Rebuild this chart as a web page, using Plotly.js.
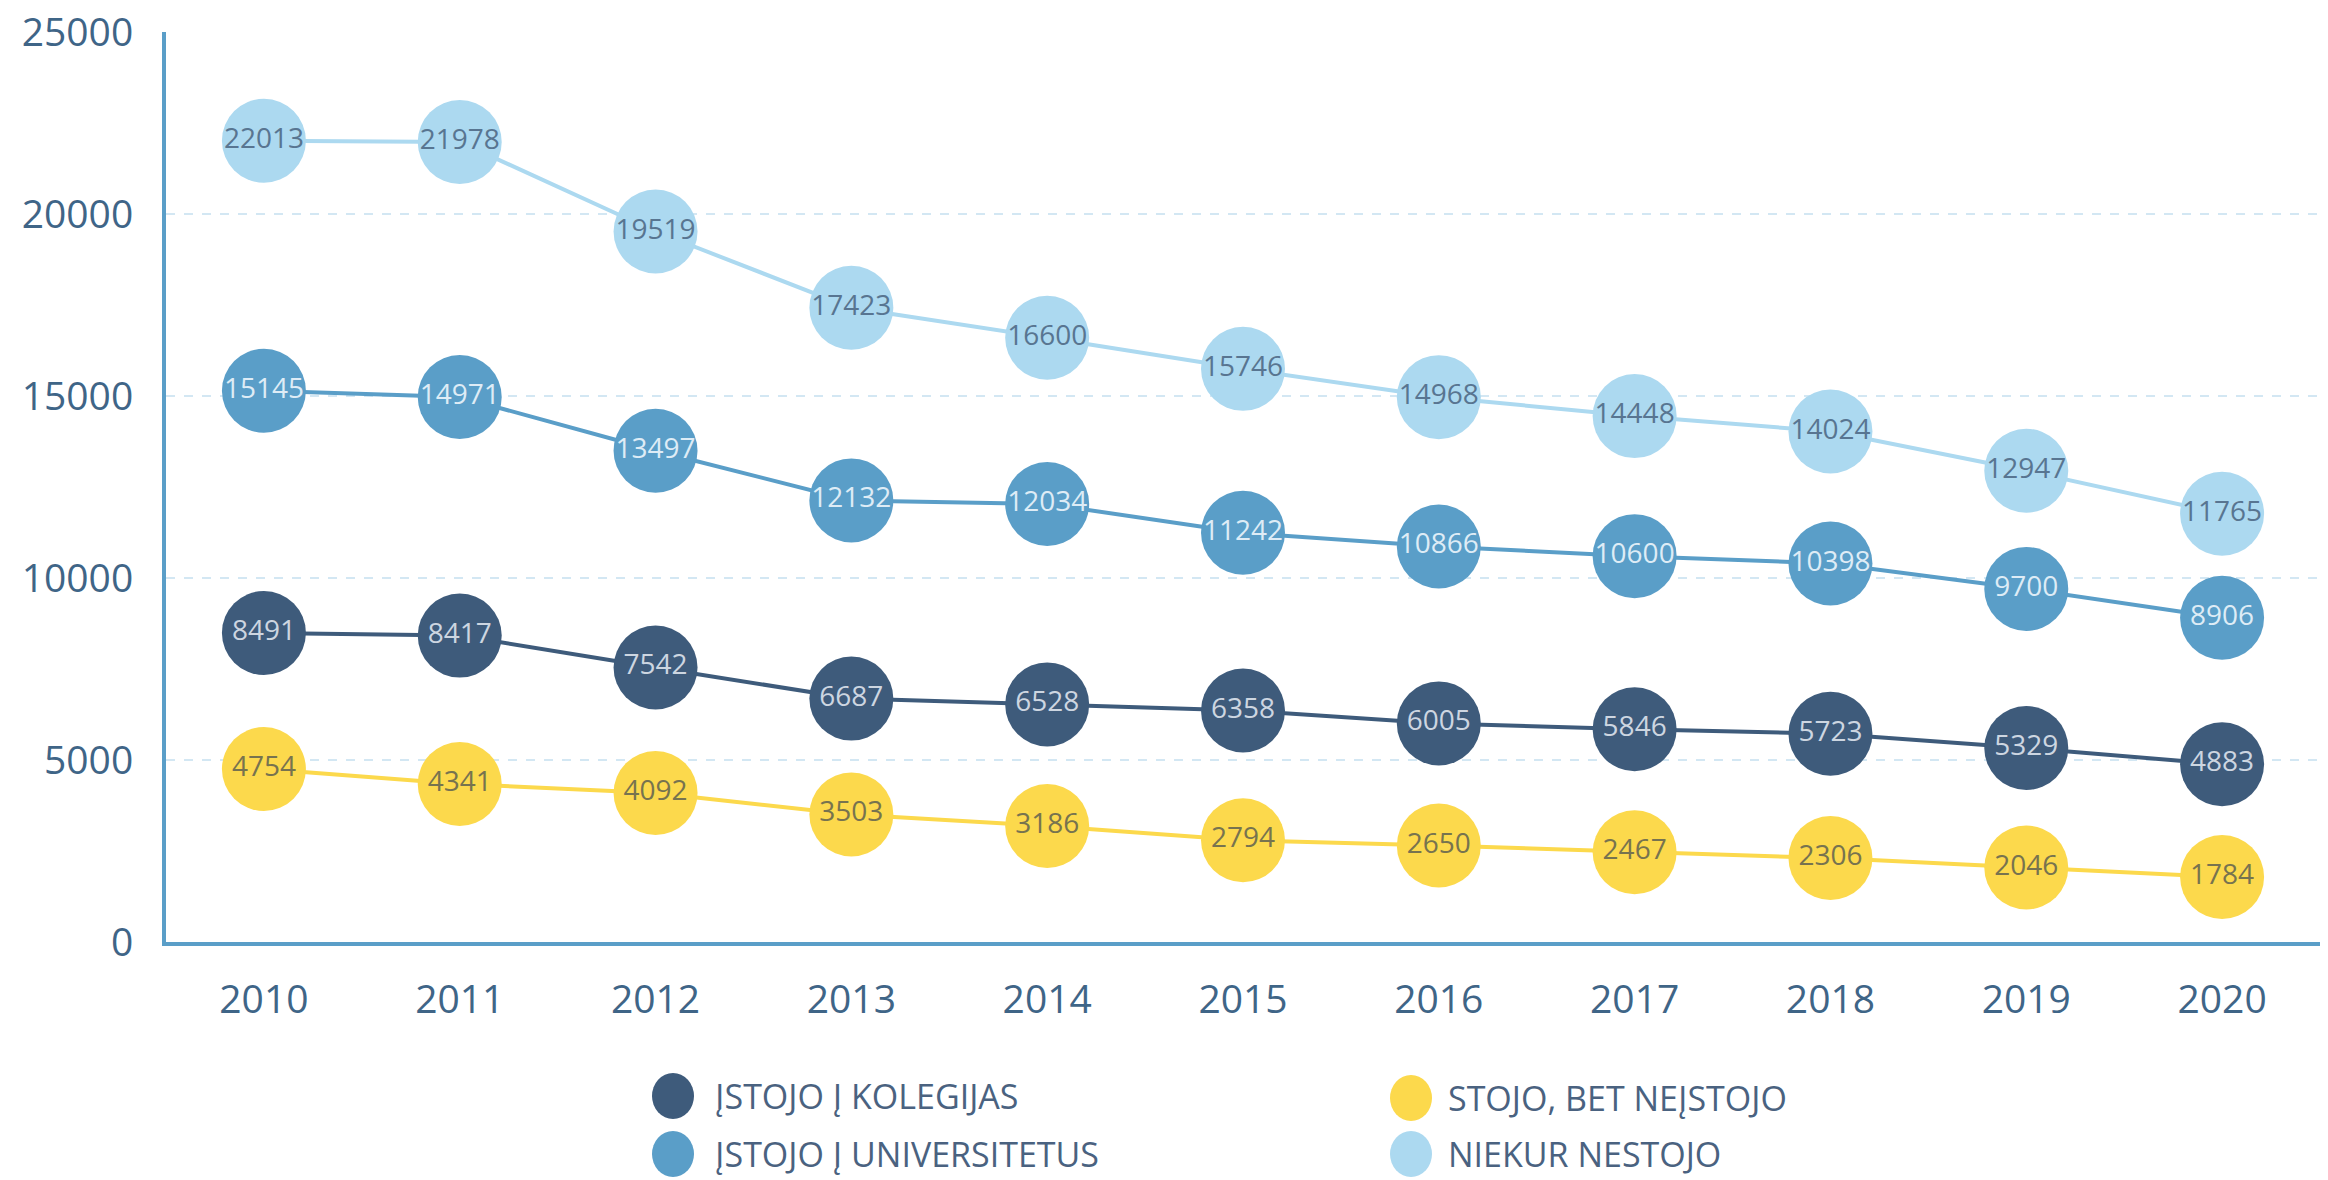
<!DOCTYPE html>
<html>
<head>
<meta charset="utf-8">
<script src="https://cdn.plot.ly/plotly-3.0.1.min.js"></script>
<style>html,body{margin:0;padding:0;background:#fff;}#chart{width:2328px;height:1180px;}</style>
</head>
<body>
<div id="chart"></div>
<script>
const years = ['2010','2011','2012','2013','2014','2015','2016','2017','2018','2019','2020'];
const kolegijos = [8491, 8417, 7542, 6687, 6528, 6358, 6005, 5846, 5723, 5329, 4883];
const universitetai = [15145, 14971, 13497, 12132, 12034, 11242, 10866, 10600, 10398, 9700, 8906];
const neistojo = [4754, 4341, 4092, 3503, 3186, 2794, 2650, 2467, 2306, 2046, 1784];
const nestojo = [22013, 21978, 19519, 17423, 16600, 15746, 14968, 14448, 14024, 12947, 11765];
const seriesNames = ['ĮSTOJO Į KOLEGIJAS', 'ĮSTOJO Į UNIVERSITETUS', 'STOJO, BET NEĮSTOJO', 'NIEKUR NESTOJO'];
const yTicks = [0, 5000, 10000, 15000, 20000, 25000];

const colors = ['#3e5b7b', '#5a9ec8', '#fcd94c', '#acd9f0'];
const textColors = ['#cdd6e1', '#deecf6', '#77734f', '#587591'];
const data = [kolegijos, universitetai, neistojo, nestojo];

const traces = data.map((vals, i) => ({
  type: 'scatter',
  mode: 'lines+markers+text',
  x: years,
  y: vals,
  name: seriesNames[i],
  text: vals.map(String),
  textposition: 'middle center',
  textfont: {family: 'Open Sans, sans-serif', size: 28, color: textColors[i]},
  line: {color: colors[i], width: 4},
  marker: {color: colors[i], size: 84},
  cliponaxis: false,
  showlegend: false,
  hoverinfo: 'x+y+name'
}));

// legend drawn as circles + text
const L = 166, R = 2320, T = 32, B = 942;
const W = R - L, H = B - T;
const px = v => (v - L) / W;
const py = v => (B - v) / H;
const legPos = [[673, 1096, 713], [673, 1154, 713], [1411, 1098, 1446], [1411, 1154, 1446]];
const shapes = [];
const annotations = [];
legPos.forEach((p, i) => {
  shapes.push({
    type: 'circle', xref: 'paper', yref: 'paper',
    xsizemode: 'pixel', ysizemode: 'pixel',
    xanchor: px(p[0]), yanchor: py(p[1]),
    x0: -21, x1: 21, y0: -23, y1: 23,
    fillcolor: colors[i], line: {width: 0}
  });
  annotations.push({
    xref: 'paper', yref: 'paper', x: px(p[2]), y: py(p[1]),
    xanchor: 'left', yanchor: 'middle', showarrow: false,
    text: seriesNames[i],
    font: {family: 'Open Sans, sans-serif', size: 34, color: '#4a6280'}
  });
});

const layout = {
  width: 2328, height: 1180,
  margin: {l: L, r: 2328 - R, t: T, b: 1180 - B},
  paper_bgcolor: '#ffffff', plot_bgcolor: '#ffffff',
  showlegend: false,
  font: {family: 'Open Sans, sans-serif', color: '#3f6587'},
  xaxis: {
    type: 'category',
    range: [-0.5, 10.5],
    showgrid: false, zeroline: false,
    showline: true, linecolor: '#5a9ec8', linewidth: 4,
    ticks: '', ticklabelstandoff: 20,
    tickfont: {size: 39, color: '#3f6587'}
  },
  yaxis: {
    range: [0, 25000],
    tickvals: yTicks,
    ticktext: yTicks.map(String),
    showgrid: true, gridcolor: '#d3e7f3', gridwidth: 2, griddash: 'dash',
    zeroline: false,
    showline: true, linecolor: '#5a9ec8', linewidth: 4,
    ticks: '', ticklabelstandoff: 21,
    tickfont: {size: 39, color: '#3f6587'}
  },
  shapes: shapes,
  annotations: annotations
};

Plotly.newPlot('chart', traces, layout, {displayModeBar: false, staticPlot: true});
</script>
</body>
</html>
